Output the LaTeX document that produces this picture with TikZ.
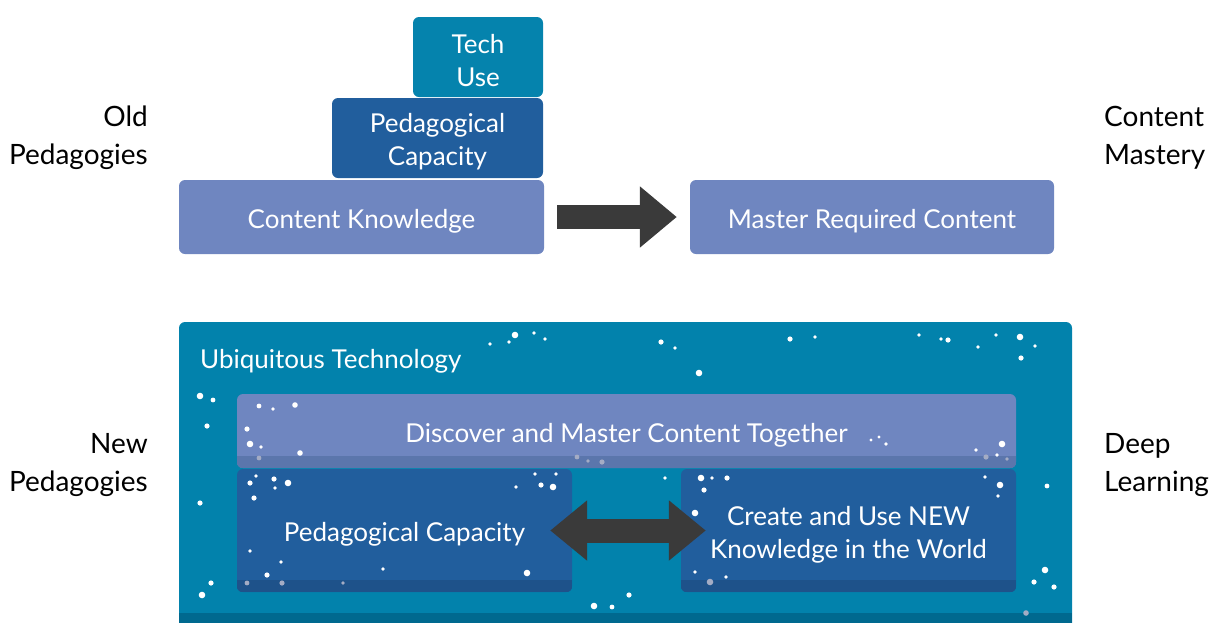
\documentclass[tikz,border=0pt]{standalone}
\usepackage{fontspec}
\setmainfont{Lato}
\usetikzlibrary{arrows.meta,calc}
\definecolor{techc}{HTML}{0583AD}
\definecolor{pedc}{HTML}{215E9D}
\definecolor{ckc}{HTML}{6F86C0}
\definecolor{bigc}{HTML}{0282AC}
\definecolor{bigstrip}{HTML}{00698F}
\definecolor{discstrip}{HTML}{5B76AC}
\definecolor{pedstrip}{HTML}{1E528A}
\definecolor{arrc}{HTML}{3A3A3A}
\definecolor{dotg}{HTML}{A4ACC4}
\tikzset{
  box/.style={rounded corners=6pt, inner sep=0pt},
  lbl/.style={inner sep=0pt, text=white, align=center, yshift=-4pt,
    font=\fontsize{26}{33}\selectfont},
  side/.style={inner sep=0pt, text=black, yshift=-3pt, font=\fontsize{28}{38}\selectfont},
  blockarrow/.style={draw=arrc, line width=24pt, arrc}
}
\begin{document}
\begin{tikzpicture}[x=1pt,y=-1pt]
\useasboundingbox (0,0) rectangle (1216,622);
% top part
\node[box, fill=techc, minimum width=130pt, minimum height=80pt] (tech) at (478,57) {};
\node[lbl] (techt) at (tech.center) {Tech\\Use};
\node[box, fill=pedc, minimum width=211pt, minimum height=80pt] (ped) at (437.5,138) {};
\node[lbl] (pedt) at (ped.center) {Pedagogical\\Capacity};
\node[box, fill=ckc, minimum width=365pt, minimum height=74pt] (ck) at (361.5,217) {};
\node[lbl] (ckt) at (ck.center) {Content Knowledge};
\node[box, fill=ckc, minimum width=364pt, minimum height=74pt] (mrc) at (872,217) {};
\node[lbl] (mrct) at (mrc.center) {Master Required Content};
\draw[blockarrow, -{Triangle[length=37pt,width=59pt]}, shorten <=13pt, shorten >=13pt] (ck.east) -- (mrc.west);
% side labels
\node[side, anchor=east, align=right] (old) at (148,135) {Old\\Pedagogies};
\node[side, anchor=west, align=left] (cm) at (1104,135) {Content\\Mastery};
\node[side, anchor=east, align=right] (newp) at (148,462) {New\\Pedagogies};
\node[side, anchor=west, align=left] (deep) at (1104,462) {Deep\\Learning};
% bottom part
\node[box, fill=bigc, minimum width=893pt, minimum height=318pt] (big) at (625.5,481) {};
\begin{scope}
\clip[rounded corners=6pt] (big.north west) rectangle (big.south east);
\fill[bigstrip] (179,613) rectangle (1072,640);
\end{scope}
\node[lbl, anchor=west] (ubi) at (200,357) {Ubiquitous Technology};
\node[box, fill=ckc, minimum width=779pt, minimum height=74pt] (disc) at (626.5,431) {};
\begin{scope}
\clip[rounded corners=6pt] (disc.north west) rectangle (disc.south east);
\fill[discstrip] ($(disc.south west)+(0,-12)$) rectangle (disc.south east);
\end{scope}
\node[box, minimum width=335pt, minimum height=123pt, fill=pedc] (pc2) at (404.5,530.5) {};
\begin{scope}
\clip[rounded corners=6pt] (pc2.north west) rectangle (pc2.south east);
\fill[pedstrip] ($(pc2.south west)+(0,-12)$) rectangle (pc2.south east);
\end{scope}
\node[box, minimum width=335pt, minimum height=123pt, fill=pedc] (cr) at (848.5,530.5) {};
\begin{scope}
\clip[rounded corners=6pt] (cr.north west) rectangle (cr.south east);
\fill[pedstrip] ($(cr.south west)+(0,-12)$) rectangle (cr.south east);
\end{scope}
% dots
\foreach \x/\y/\r in {
 490/344/1.9, 509/342/1.9, 515/335/3.3, 534/333/1.9, 545/339/1.9,
 200/396/3.3, 213/400/2.4, 207/426/2.6, 259/406/2.4, 273/409/1.9, 295/405/2.8,
 247/429/2.6, 250/444/3.3, 261/447/1.9, 300/453/2.8,
 256/476/1.9, 250/483/2.6, 274/479/2.6, 275/488/1.9, 288/483/3.3, 254/498/2.6,
 200/503/2.6, 535/474/1.9, 556/474/1.9, 516/487/1.9, 541/485/2.6, 553/487/3.3,
 250/551/1.9, 281/562/1.9, 383/569/1.9, 267/575/2.6, 527/573/3.3,
 211/583/2.6, 202/595/3.3, 594/606/3.3, 612/607/2.4, 629/595/2.6,
 661/342/2.6, 675/348/1.9, 790/339/2.6, 815/337/1.9, 919/335/1.9, 941/339/1.9,
 948/340/2.6, 978/347/1.9, 996/335/1.9, 1020/337/3.3, 1035/346/1.9, 1021/358/2.6,
 699/373/3.3, 871/440/1.6, 879/437/1.6, 886/444/1.9, 976/450/1.9, 1002/444/3.3,
 997/455/1.9, 665/478/1.9, 701/478/3.3, 712/478/1.9, 727/478/2.6, 704/490/2.6,
 985/477/1.9, 1000/485/3.3, 998/496/1.9, 1047/486/2.4, 695/513/3.3,
 695/572/1.9, 726/577/1.9, 1045/570/3.3, 1034/582/2.6, 1054/587/2.6}
 \fill[white] (\x,\y) circle[radius=\r];
\foreach \x/\y/\r in {259/458/2.4, 577/457/2.4, 588/461/1.9, 602/462/2.6, 986/457/2.6,
 1007/459/1.9, 247/583/2.4, 282/583/2.6, 343/583/1.9, 710/582/3.3, 1026/613/2.8}
 \fill[dotg] (\x,\y) circle[radius=\r];
% texts on top
\node[lbl] (disct) at (disc.center) {Discover and Master Content Together};
\node[lbl] (pc2t) at (pc2.center) {Pedagogical Capacity};
\node[lbl] (crt) at (cr.center) {Create and Use NEW\\Knowledge in the World};
\draw[blockarrow, {Triangle[length=37pt,width=58pt]}-{Triangle[length=37pt,width=58pt]}, shorten <=-22pt, shorten >=-25pt] (pc2.east) -- (cr.west);
\end{tikzpicture}
\end{document}
